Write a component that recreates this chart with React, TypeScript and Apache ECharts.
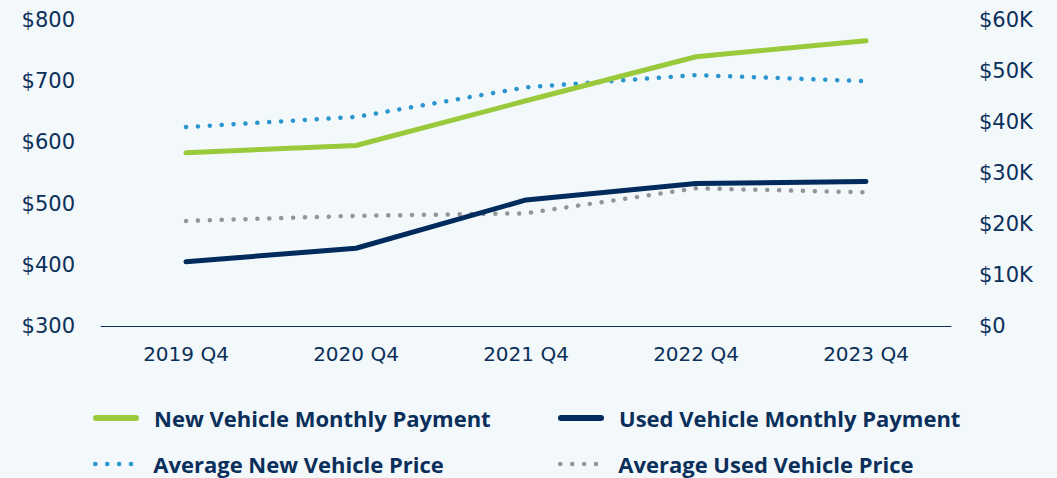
import React, { useEffect, useRef } from "react";
import * as echarts from "echarts";

const categories = ["2019 Q4", "2020 Q4", "2021 Q4", "2022 Q4", "2023 Q4"];
const newPayment = [583, 595, 668, 740, 766];
const usedPayment = [405, 427, 506, 533, 536];
const newPrice = [39000, 41000, 46800, 49200, 48000];
const usedPrice = [20600, 21600, 22100, 27000, 26200];

const NAVY = "#0a2f5a";
const GREEN = "#9aca3c";
const DARK = "#002b5c";
const BLUE = "#2a95cf";
const GRAY = "#949598";
const BG = "#f3f8fb";
const FONT = "'Open Sans', 'Noto Sans', sans-serif";
const AXIS_FONT = "'DejaVu Sans', 'Open Sans', sans-serif";

const SOLID = { width: 6, cap: "round" as const };
const DOTS = { width: 4.5, type: [0.1, 11.8], cap: "round" as const };

export default function App() {
  const ref = useRef<HTMLDivElement>(null);
  useEffect(() => {
    document.body.style.margin = "0";
    const chart = echarts.init(ref.current!, null, { renderer: "svg" });
    const legendText = {
      color: NAVY,
      fontFamily: FONT,
      fontWeight: "bold" as const,
      fontSize: 22,
      padding: [0, 0, 0, 13],
    };
    const legendBase = {
      itemWidth: 40,
      itemHeight: 14,
      textStyle: legendText,
      itemStyle: { opacity: 0 },
      selectedMode: false,
      padding: 0,
    };
    chart.setOption({
      animation: false,
      backgroundColor: BG,
      grid: { left: 101, right: 106, top: 20, bottom: 152 },
      legend: [
        { ...legendBase, lineStyle: SOLID, data: ["New Vehicle Monthly Payment"], left: 93, top: 407 },
        { ...legendBase, lineStyle: SOLID, data: ["Used Vehicle Monthly Payment"], left: 558, top: 407 },
        { ...legendBase, lineStyle: DOTS, data: ["Average New Vehicle Price"], left: 93, top: 453 },
        { ...legendBase, lineStyle: DOTS, data: ["Average Used Vehicle Price"], left: 558, top: 453 },
      ],
      xAxis: {
        type: "category",
        data: categories,
        boundaryGap: true,
        axisLine: { show: true, lineStyle: { color: NAVY, width: 1 } },
        axisTick: { show: false },
        axisLabel: { color: NAVY, fontFamily: AXIS_FONT, fontSize: 20, margin: 18 },
      },
      yAxis: [
        {
          type: "value",
          min: 300,
          max: 800,
          interval: 100,
          splitLine: { show: false },
          axisLine: { show: false },
          axisTick: { show: false },
          axisLabel: {
            color: NAVY,
            fontFamily: AXIS_FONT,
            fontSize: 21,
            margin: 26,
            formatter: (v: number) => "$" + v,
          },
        },
        {
          type: "value",
          min: 0,
          max: 60000,
          interval: 10000,
          position: "right",
          splitLine: { show: false },
          axisLine: { show: false },
          axisTick: { show: false },
          axisLabel: {
            color: NAVY,
            fontFamily: AXIS_FONT,
            fontSize: 21,
            margin: 28,
            formatter: (v: number) => (v === 0 ? "$0" : "$" + v / 1000 + "K"),
          },
        },
      ],
      series: [
        {
          name: "New Vehicle Monthly Payment",
          type: "line",
          data: newPayment,
          yAxisIndex: 0,
          symbol: "none",
          color: GREEN,
          lineStyle: { color: GREEN, width: 5, cap: "round", join: "round" },
          z: 3,
        },
        {
          name: "Used Vehicle Monthly Payment",
          type: "line",
          data: usedPayment,
          yAxisIndex: 0,
          symbol: "none",
          color: DARK,
          lineStyle: { color: DARK, width: 5, cap: "round", join: "round" },
          z: 3,
        },
        {
          name: "Average New Vehicle Price",
          type: "line",
          data: newPrice,
          yAxisIndex: 1,
          symbol: "none",
          color: BLUE,
          lineStyle: { color: BLUE, width: 4.5, type: [0.1, 11.8], cap: "round" },
          z: 2,
        },
        {
          name: "Average Used Vehicle Price",
          type: "line",
          data: usedPrice,
          yAxisIndex: 1,
          symbol: "none",
          color: GRAY,
          lineStyle: { color: GRAY, width: 4.5, type: [0.1, 11.8], cap: "round" },
          z: 2,
        },
      ],
    });
    return () => chart.dispose();
  }, []);
  return (
    <div
      ref={ref}
      style={{ position: "fixed", left: 0, top: 0, width: 1057, height: 478 }}
    />
  );
}
